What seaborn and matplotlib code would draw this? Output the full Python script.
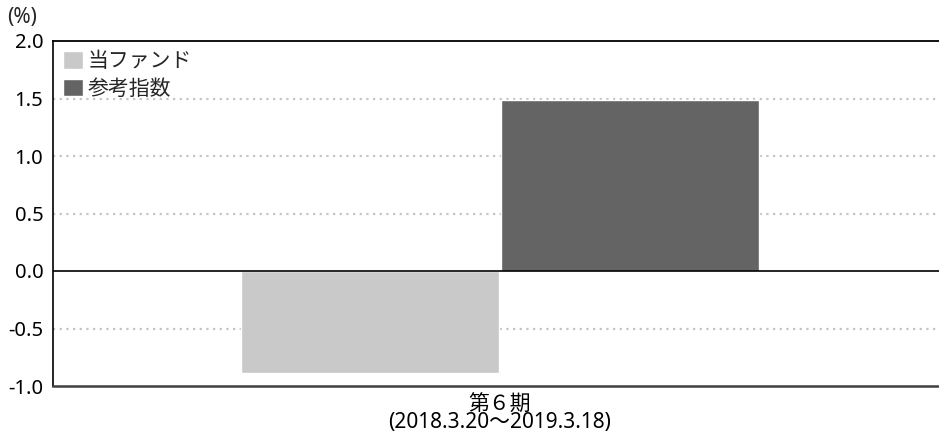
import matplotlib
matplotlib.use("Agg")
import matplotlib.pyplot as plt
import seaborn as sns
import pandas as pd

periods = ["第６期\n(2018.3.20〜2019.3.18)"]
series = ["当ファンド", "参考指数"]
values = [-0.885, 1.49]
colors = ["#c8c9c8", "#646464"]
yticks = [-1.0, -0.5, 0.0, 0.5, 1.0, 1.5, 2.0]

sns.set_theme(style="white")
plt.rcParams['font.family'] = ['Noto Sans', 'Noto Sans CJK JP', 'DejaVu Sans']

df = pd.DataFrame({"period": periods * len(series), "series": series, "value": values})

fig = plt.figure(figsize=(9.39, 4.33), dpi=100)
ax = fig.add_axes([53/939, 1-386/433, (947-53)/939, (386-41)/433])

sns.barplot(data=df, x="period", y="value", hue="series", hue_order=series,
            palette=dict(zip(series, colors)), width=0.582, gap=0.008,
            saturation=1, ax=ax, legend=True)

ax.set_ylim(-1.0, 2.0)
ax.set_xlim(-0.5, 0.5)
ax.set_yticks(yticks)
ax.set_yticklabels([f"{v:.1f}" for v in yticks])
for v in yticks:
    if v not in (-1.0, 0.0, 2.0):
        ax.axhline(v, color="#c4c4c4", lw=1.6, ls=(0, (1, 2)), zorder=0)
ax.axhline(0, color="black", lw=1.2, zorder=3)

ax.set_xlabel("")
ax.set_ylabel("")
ax.tick_params(axis="both", length=0, colors="black")
ax.tick_params(axis="y", pad=7, labelsize=14.5)
ax.tick_params(axis="x", pad=6, labelsize=15)
for lbl in ax.get_xticklabels():
    lbl.set_linespacing(0.78)

ax.spines["right"].set_visible(False)
ax.spines["top"].set_color("black")
ax.spines["top"].set_linewidth(1.3)
ax.spines["left"].set_color("black")
ax.spines["left"].set_linewidth(1.2)
ax.spines["bottom"].set_color("#404040")
ax.spines["bottom"].set_linewidth(1.8)

h, l = ax.get_legend_handles_labels()
ax.legend(h, l, loc="upper left", bbox_to_anchor=(0.0, 1.0), frameon=False,
          fontsize=15, handlelength=0.92, handleheight=0.92, handletextpad=0.22,
          labelspacing=0.3, borderaxespad=0.0, borderpad=0.5)

fig.text(7/939, 1-18/433, "(%)", fontsize=15, va="center", ha="left")

fig.savefig("out.png", dpi=100)
